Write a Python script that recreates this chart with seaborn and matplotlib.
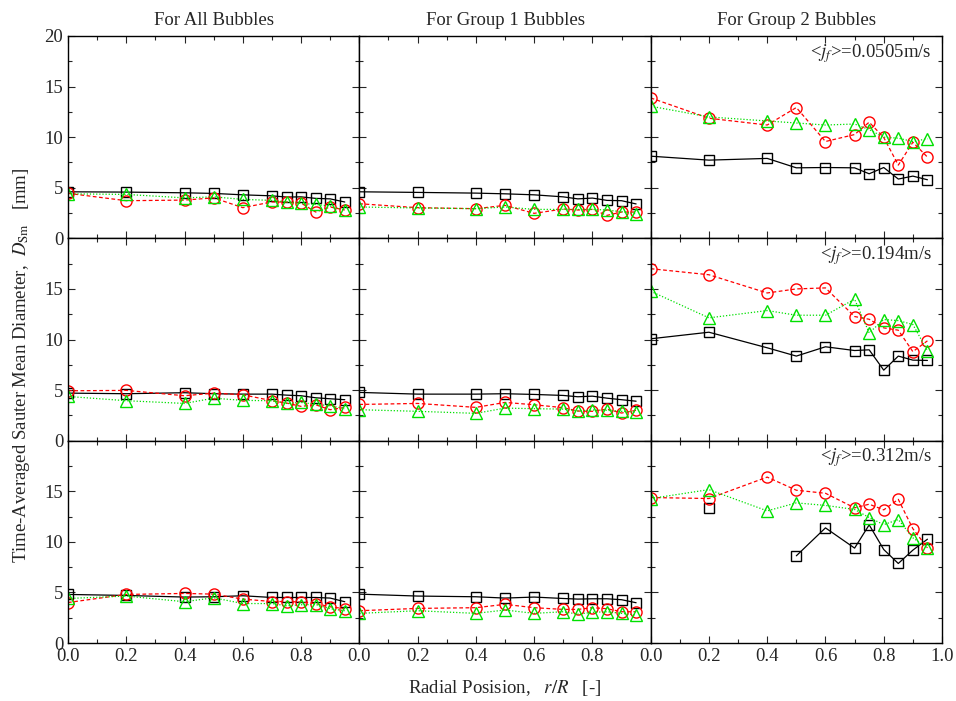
import numpy as np
import pandas as pd
import matplotlib
matplotlib.use("Agg")
import matplotlib.pyplot as plt
import seaborn as sns
from matplotlib.ticker import MultipleLocator

nan = np.nan
r_pos = [0.0, 0.2, 0.4, 0.5, 0.6, 0.7, 0.75, 0.8, 0.85, 0.9, 0.95]
col_titles = ["For All Bubbles", "For Group 1 Bubbles", "For Group 2 Bubbles"]
jf_labels = ["0.0505", "0.194", "0.312"]
series_names = ["square", "circle", "triangle"]

# Row 1: <jf> = 0.0505 m/s
all_1_sq = [4.6, 4.57, 4.5, 4.44, 4.3, 4.2, 4.08, 4.1, 3.95, 3.9, 3.59]
all_1_ci = [4.45, 3.72, 3.78, 4.0, 3.03, 3.6, 3.58, 3.49, 2.6, 3.1, 2.8]
all_1_tr = [4.4, 4.34, 4.0, 4.1, 3.85, 3.75, 3.6, 3.45, 3.35, 3.2, 2.8]
g1_1_sq = [4.6, 4.54, 4.47, 4.4, 4.3, 4.1, 3.9, 3.98, 3.75, 3.72, 3.4]
g1_1_ci = [3.42, 3.03, 2.93, 3.26, 2.47, 2.9, 2.8, 2.86, 2.27, 2.6, 2.6]
g1_1_tr = [3.1, 3.0, 2.93, 3.1, 2.86, 2.86, 2.86, 2.86, 2.8, 2.63, 2.43]
g2_1_sq = [8.12, 7.73, 7.9, 6.97, 7.0, 6.97, 6.38, 7.0, 5.86, 6.15, 5.79]
g2_1_ci = [13.88, 11.87, 11.2, 12.93, 9.57, 10.26, 11.48, 9.97, 7.24, 9.5, 8.03]
g2_1_tr = [13.06, 12.0, 11.6, 11.4, 11.2, 11.3, 10.75, 10.0, 9.9, 9.57, 9.84]

# Row 2: <jf> = 0.194 m/s
all_2_sq = [4.7, 4.64, 4.74, 4.64, 4.6, 4.6, 4.5, 4.44, 4.24, 4.14, 4.05]
all_2_ci = [4.93, 4.97, 4.44, 4.7, 4.54, 3.95, 3.72, 3.39, 3.55, 3.06, 3.29]
all_2_tr = [4.37, 3.95, 3.68, 4.2, 3.98, 3.95, 3.68, 3.78, 3.6, 3.45, 3.16]
g1_2_sq = [4.77, 4.6, 4.6, 4.64, 4.57, 4.47, 4.34, 4.4, 4.2, 4.05, 3.9]
g1_2_ci = [3.58, 3.68, 3.29, 3.78, 3.55, 3.26, 2.93, 2.9, 3.12, 2.73, 3.0]
g1_2_tr = [3.06, 2.9, 2.7, 3.22, 3.16, 3.12, 2.93, 3.03, 3.0, 2.9, 2.83]
g2_2_sq = [10.07, 10.72, 9.18, 8.36, 9.28, 8.91, 8.98, 6.97, 8.36, 7.96, 7.93]
g2_2_ci = [17.0, 16.4, 14.6, 15.0, 15.1, 12.27, 12.0, 11.15, 10.92, 8.8, 9.87]
g2_2_tr = [14.77, 12.14, 12.86, 12.4, 12.4, 13.98, 10.66, 11.97, 11.87, 11.48, 8.9]

# Row 3: <jf> = 0.312 m/s
all_3_sq = [4.8, 4.7, 4.54, 4.57, 4.67, 4.5, 4.5, 4.5, 4.5, 4.44, 4.08]
all_3_ci = [4.0, 4.8, 4.9, 4.83, 4.34, 4.1, 4.1, 4.05, 3.9, 3.58, 3.39]
all_3_tr = [4.4, 4.64, 4.08, 4.47, 3.9, 3.9, 3.68, 3.78, 3.8, 3.39, 3.19]
g1_3_sq = [4.83, 4.64, 4.57, 4.44, 4.54, 4.4, 4.34, 4.37, 4.37, 4.28, 3.98]
g1_3_ci = [3.19, 3.42, 3.49, 3.82, 3.49, 3.32, 3.32, 3.49, 3.39, 3.09, 3.09]
g1_3_tr = [2.93, 3.19, 2.93, 3.26, 2.93, 3.09, 2.86, 3.03, 3.09, 2.93, 2.76]
g2_3_sq = [nan, 13.36, nan, 8.62, 11.38, 9.38, 11.68, 9.24, 7.86, 9.18, 10.26]
g2_3_ci = [14.38, 14.28, 16.4, 15.1, 14.8, 13.36, 13.72, 13.16, 14.2, 11.3, 9.4]
g2_3_tr = [14.28, 15.16, 13.06, 13.85, 13.6, 13.2, 12.4, 11.7, 12.2, 10.4, 9.4]

panels = [
    [(all_1_sq, all_1_ci, all_1_tr), (g1_1_sq, g1_1_ci, g1_1_tr), (g2_1_sq, g2_1_ci, g2_1_tr)],
    [(all_2_sq, all_2_ci, all_2_tr), (g1_2_sq, g1_2_ci, g1_2_tr), (g2_2_sq, g2_2_ci, g2_2_tr)],
    [(all_3_sq, all_3_ci, all_3_tr), (g1_3_sq, g1_3_ci, g1_3_tr), (g2_3_sq, g2_3_ci, g2_3_tr)],
]

styles = {
    "square": dict(color="black", marker="s", ls="-", ms=7.5, lw=0.9),
    "circle": dict(color="#ff0000", marker="o", ls=(0, (3, 2)), ms=8, lw=0.9),
    "triangle": dict(color="#00e000", marker="^", ls=(0, (1, 1.5)), ms=9, lw=0.9),
}

sns.set_style("ticks")
plt.rcParams["font.family"] = ["Liberation Serif", "DejaVu Serif"]
plt.rcParams["mathtext.fontset"] = "stix"
plt.rcParams["xtick.direction"] = "in"
plt.rcParams["ytick.direction"] = "in"

fig, axes = plt.subplots(3, 3, figsize=(9.56, 7.01), dpi=100, sharex=False, sharey=False)
fig.subplots_adjust(left=68/956, right=942/956, top=1-36/701, bottom=1-643/701, wspace=0, hspace=0)

fs = 13.5
for i in range(3):
    for j in range(3):
        ax = axes[i, j]
        for name, vals in zip(series_names, panels[i][j]):
            st = styles[name]
            df = pd.DataFrame({"r": r_pos, "d": vals})
            seg = df["d"].isna().cumsum()
            df = df.assign(seg=seg).dropna()
            for _, sub in df.groupby("seg"):
                sns.lineplot(data=sub, x="r", y="d", ax=ax, color=st["color"],
                             linestyle=st["ls"], linewidth=st["lw"], marker=st["marker"],
                             markersize=st["ms"], markerfacecolor="none",
                             markeredgecolor=st["color"], markeredgewidth=1.0,
                             estimator=None, sort=False, legend=False)
        ax.set_xlim(0, 1.0)
        ax.set_ylim(0, 20)
        ax.set_xlabel("")
        ax.set_ylabel("")
        ax.xaxis.set_major_locator(MultipleLocator(0.2))
        ax.xaxis.set_minor_locator(MultipleLocator(0.1))
        ax.yaxis.set_major_locator(MultipleLocator(5))
        ax.yaxis.set_minor_locator(MultipleLocator(2.5))
        ax.tick_params(which="both", top=True, right=True, direction="in", labelsize=fs)
        ax.tick_params(which="major", length=5, width=0.8)
        ax.tick_params(which="minor", length=3, width=0.8)
        for sp in ax.spines.values():
            sp.set_linewidth(1.0)
            sp.set_color("black")
        if i < 2:
            ax.set_xticklabels([])
        else:
            if j < 2:
                ax.set_xticks([0.0, 0.2, 0.4, 0.6, 0.8])
                ax.set_xticklabels(["0.0", "0.2", "0.4", "0.6", "0.8"])
            else:
                ax.set_xticks([0.0, 0.2, 0.4, 0.6, 0.8, 1.0])
                ax.set_xticklabels(["0.0", "0.2", "0.4", "0.6", "0.8", "1.0"])
            ax.xaxis.set_minor_locator(MultipleLocator(0.1))
        if j > 0:
            ax.set_yticklabels([])
        else:
            if i == 0:
                ax.set_yticks([0, 5, 10, 15, 20])
                ax.set_yticklabels(["0", "5", "10", "15", "20"])
            else:
                ax.set_yticks([0, 5, 10, 15])
                ax.set_yticklabels(["0", "5", "10", "15"])
            ax.yaxis.set_minor_locator(MultipleLocator(2.5))
        ax.set_xlim(0, 1.0)
        ax.set_ylim(0, 20)
        if i == 0:
            ax.set_title(col_titles[j], fontsize=fs, pad=8)
        if j == 2:
            ax.text(0.965, 0.915, r"<$j_f$>=" + jf_labels[i] + "m/s", transform=ax.transAxes,
                    ha="right", va="center", fontsize=fs)

fig.text(505/956, 1-688/701, r"Radial Posision,   $r/R$   [-]", ha="center", va="center", fontsize=fs)
fig.text(22/956, 1-365/701, r"Time-Averaged Sauter Mean Diameter,  $D_{\mathrm{Sm}}$   [mm]",
         rotation=90, ha="center", va="center", fontsize=fs)

fig.savefig("out.png", dpi=100)
